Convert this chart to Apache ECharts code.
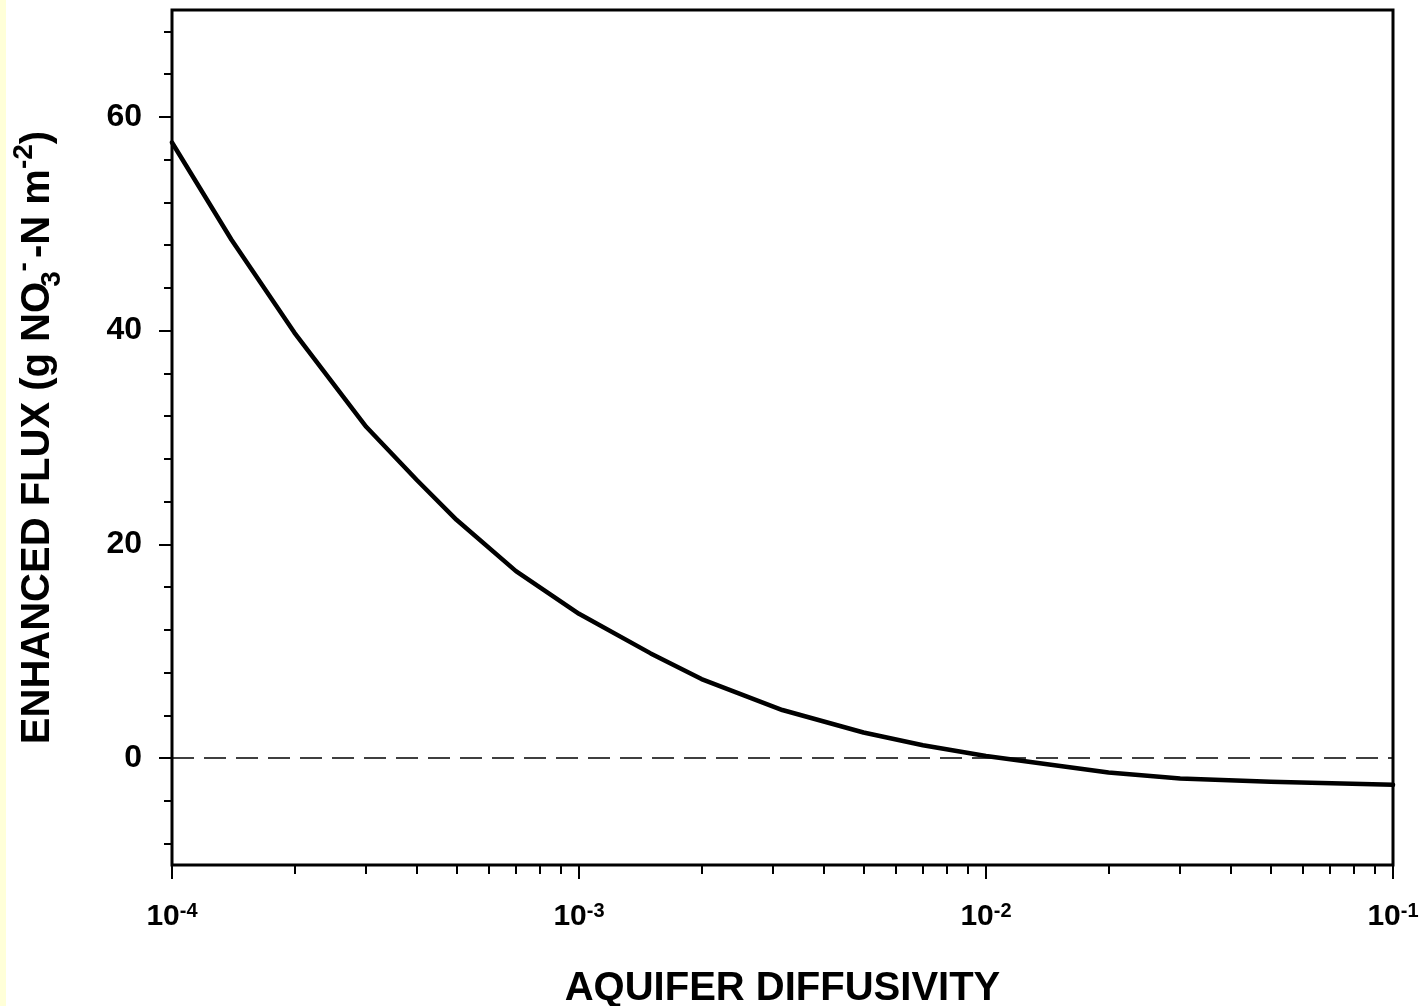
<!DOCTYPE html>
<html>
<head>
<meta charset="utf-8">
<script src="https://cdn.jsdelivr.net/npm/echarts@6/dist/echarts.min.js"></script>
<style>
  html, body { margin: 0; padding: 0; background: #ffffff; }
  #chart { width: 1424px; height: 1006px; }
</style>
</head>
<body>
<div id="chart"></div>
<script>
// Enhanced nitrate flux versus aquifer diffusivity
const diffusivity  = [1e-4, 1.4e-4, 2e-4, 3e-4, 4e-4, 5e-4, 7e-4, 1e-3, 1.5e-3, 2e-3, 3.16e-3, 5e-3, 7e-3, 1e-2, 2e-2, 3e-2, 5e-2, 1e-1];
const enhancedFlux = [57.6, 48.5, 39.8, 31.0, 26.0, 22.3, 17.5, 13.5, 9.8, 7.4, 4.5, 2.4, 1.2, 0.2, -1.35, -1.9, -2.2, -2.5];

// axis ticks
const xMinorTicks = [2e-4, 3e-4, 4e-4, 5e-4, 6e-4, 7e-4, 8e-4, 9e-4,
                     2e-3, 3e-3, 4e-3, 5e-3, 6e-3, 7e-3, 8e-3, 9e-3,
                     2e-2, 3e-2, 4e-2, 5e-2, 6e-2, 7e-2, 8e-2, 9e-2];
const yLabelTicks = [0, 20, 40, 60];
const yMinorTicks = [-8, -4, 4, 8, 12, 16, 24, 28, 32, 36, 44, 48, 52, 56, 64, 68];
const zeroLevel = 0;

const FONT = '"Liberation Sans", Arial, Helvetica, sans-serif';
const tickStyle = { color: '#000', width: 2 };

const chart = echarts.init(document.getElementById('chart'), null, { renderer: 'canvas' });

chart.setOption({
  backgroundColor: '#ffffff',
  animation: false,
  textStyle: { fontFamily: FONT, color: '#000' },
  graphic: [{
    type: 'rect', left: 0, top: 0, z: -1,
    shape: { width: 6, height: 1006 },
    style: { fill: '#FFFFD8' }
  }],
  grid: {
    left: 172, right: 31, top: 10, bottom: 141,
    outerBoundsMode: 'none', containLabel: false,
    show: true, borderColor: '#000', borderWidth: 3, backgroundColor: '#fff'
  },
  xAxis: [{
    type: 'log', logBase: 10, min: 1e-4, max: 1e-1,
    position: 'bottom',
    axisLine: { show: false, onZero: false },
    splitLine: { show: false },
    axisTick: { show: true, inside: false, length: 14, lineStyle: tickStyle },
    axisLabel: {
      margin: 36, showMinLabel: true, showMaxLabel: true, hideOverlap: false,
      formatter: v => '{n|10}{s|' + Math.round(Math.log10(v)) + '}',
      rich: {
        n: { fontFamily: FONT, fontSize: 30, fontWeight: 'bold', color: '#000', lineHeight: 32 },
        s: { fontFamily: FONT, fontSize: 20, fontWeight: 'bold', color: '#000', verticalAlign: 'top', lineHeight: 20 }
      }
    },
    name: 'AQUIFER DIFFUSIVITY',
    nameLocation: 'middle', nameGap: 104,
    nameTextStyle: { fontFamily: FONT, fontSize: 40, fontWeight: 'bold', color: '#000' }
  }, {
    // minor decade ticks, placed on the matching log10 scale
    type: 'value', min: -4, max: -1,
    position: 'bottom', offset: 0,
    axisLine: { show: false, onZero: false },
    splitLine: { show: false },
    axisLabel: { show: false },
    axisTick: { show: true, length: 9, lineStyle: tickStyle,
                customValues: xMinorTicks.map(v => Math.log10(v)) }
  }],
  yAxis: [{
    type: 'value', min: -10, max: 70,
    position: 'left',
    axisLine: { show: false, onZero: false },
    splitLine: { show: false },
    axisTick: { show: true, length: 13, lineStyle: tickStyle, customValues: yLabelTicks },
    axisLabel: {
      customValues: yLabelTicks, margin: 30,
      fontFamily: FONT, fontSize: 32, fontWeight: 'bold', color: '#000'
    },
    name: '{t|ENHANCED FLUX (g NO}{sub|3}{sup|-}{t|-N m}{sup2|-2}{t|)}',
    nameLocation: 'middle', nameRotate: 90, nameGap: 106,
    nameTextStyle: {
      rich: {
        t:    { fontFamily: FONT, fontSize: 40, fontWeight: 'bold', color: '#000', lineHeight: 56 },
        sub:  { fontFamily: FONT, fontSize: 28, fontWeight: 'bold', color: '#000', verticalAlign: 'bottom', lineHeight: 28, width: 6 },
        sup:  { fontFamily: FONT, fontSize: 28, fontWeight: 'bold', color: '#000', verticalAlign: 'top', lineHeight: 28, width: 18 },
        sup2: { fontFamily: FONT, fontSize: 28, fontWeight: 'bold', color: '#000', verticalAlign: 'top', lineHeight: 28 }
      }
    }
  }, {
    type: 'value', min: -10, max: 70,
    position: 'left', offset: 0,
    axisLine: { show: false, onZero: false },
    splitLine: { show: false },
    axisLabel: { show: false },
    axisTick: { show: true, length: 8, lineStyle: tickStyle, customValues: yMinorTicks }
  }],
  series: [{
    type: 'line',
    xAxisIndex: 0, yAxisIndex: 0,
    data: diffusivity.map((d, i) => [d, enhancedFlux[i]]),
    showSymbol: false, symbol: 'none',
    lineStyle: { color: '#000', width: 4.5, join: 'round', cap: 'round' },
    z: 5,
    markLine: {
      silent: true, symbol: 'none', label: { show: false },
      lineStyle: { color: '#000', width: 1.5, type: [22, 10] },
      data: [{ yAxis: zeroLevel }]
    }
  }]
});
</script>
</body>
</html>
